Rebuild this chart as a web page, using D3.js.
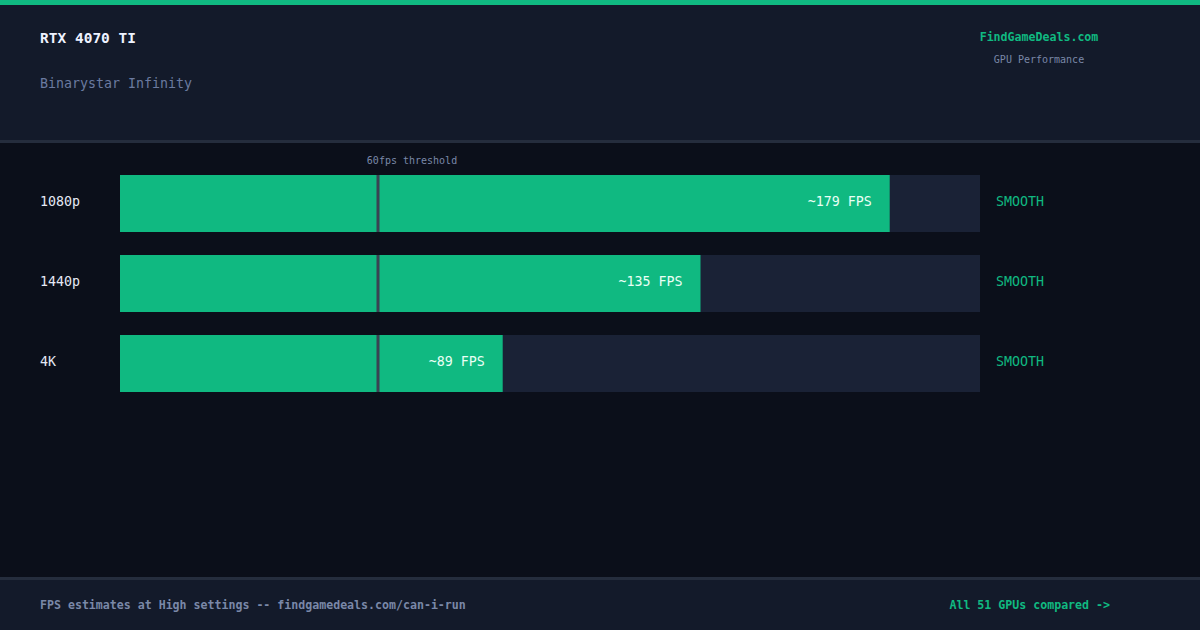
<!DOCTYPE html><html><head><meta charset="utf-8"><script src="https://cdn.jsdelivr.net/npm/d3@7"></script>
<style>body{margin:0;background:#0b0f1a}svg{display:block}text{font-family:"DejaVu Sans Mono",monospace}</style></head><body><svg id="c" width="1200" height="630"></svg>
<script>
const categories=["1080p","1440p","4K"];
const fps=[179,135,89];
const verdicts=["SMOOTH","SMOOTH","SMOOTH"];
const threshold=60;
const svg=d3.select("#c");
svg.append("rect").attr("width",1200).attr("height",630).attr("fill","#0b0f1a");
svg.append("rect").attr("width",1200).attr("height",141).attr("fill","#131a2a");
svg.append("rect").attr("y",140).attr("width",1200).attr("height",3).attr("fill","#252d3d");
svg.append("rect").attr("width",1200).attr("height",5).attr("fill","#10b981");
svg.append("rect").attr("y",578).attr("width",1200).attr("height",52).attr("fill","#131a2a");
svg.append("rect").attr("y",577).attr("width",1200).attr("height",3).attr("fill","#252d3d");
svg.append("text").attr("x",40).attr("y",43).attr("fill","#eef2ff").attr("font-size",14.5).attr("font-weight","bold").text("RTX 4070 TI");
svg.append("text").attr("x",40).attr("y",88).attr("fill","#6b7aa0").attr("font-size",13.3).text("Binarystar Infinity");
svg.append("text").attr("x",1039).attr("y",41).attr("text-anchor","middle").attr("fill","#10b981").attr("font-size",11.6).attr("font-weight","bold").text("FindGameDeals.com");
svg.append("text").attr("x",1039).attr("y",63).attr("text-anchor","middle").attr("fill","#7a88a8").attr("font-size",10).text("GPU Performance");
svg.append("text").attr("x",40).attr("y",609).attr("fill","#7a88a8").attr("font-size",11.6).attr("font-weight","bold").text("FPS estimates at High settings -- findgamedeals.com/can-i-run");
svg.append("text").attr("x",1110).attr("y",609).attr("text-anchor","end").attr("fill","#10b981").attr("font-size",11.6).attr("font-weight","bold").text("All 51 GPUs compared ->");
const x=d3.scaleLinear().domain([0,200]).range([120,980]);
const y=d3.scaleBand().domain(categories).range([175,392]).paddingInner(23/80).paddingOuter(0);
const bh=y.bandwidth();
const g=svg.selectAll("g.r").data(categories).join("g");
g.append("rect").attr("x",x(0)).attr("y",d=>y(d)).attr("width",x(200)-x(0)).attr("height",bh).attr("fill","#1a2236");
g.append("rect").attr("x",x(0)).attr("y",d=>y(d)).attr("width",(d,i)=>x(fps[i])-x(0)).attr("height",bh).attr("fill","#10b981");
g.append("rect").attr("x",x(threshold)-1.5).attr("y",d=>y(d)).attr("width",3).attr("height",bh).attr("fill","#3a4252");
g.append("text").attr("x",40).attr("y",d=>y(d)+31).attr("fill","#e5e9f5").attr("font-size",13.3).text(d=>d);
g.append("text").attr("x",(d,i)=>x(fps[i])-18).attr("y",d=>y(d)+31).attr("text-anchor","end").attr("fill","#eafff5").attr("font-size",13.3).text((d,i)=>"~"+fps[i]+" FPS");
g.append("text").attr("x",996).attr("y",d=>y(d)+31).attr("fill","#10b981").attr("font-size",13.3).text((d,i)=>verdicts[i]);
svg.append("text").attr("x",x(threshold)+34).attr("y",164).attr("text-anchor","middle").attr("fill","#7a88a8").attr("font-size",10).text("60fps threshold");
</script></body></html>
